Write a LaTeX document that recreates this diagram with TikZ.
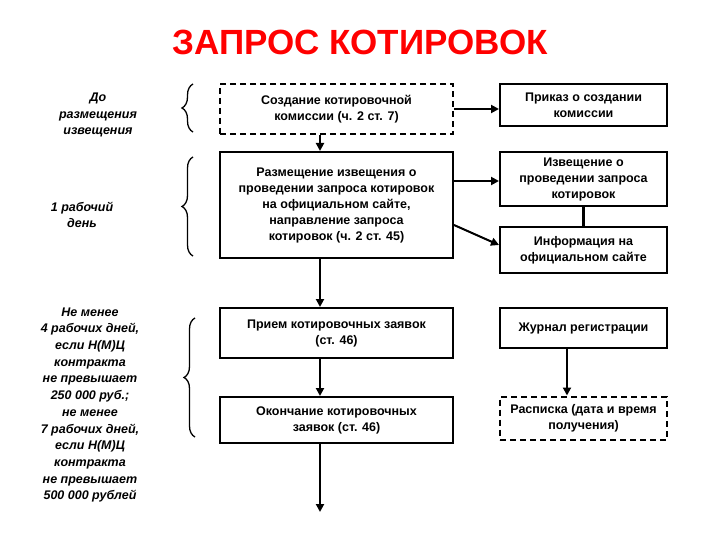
\documentclass[tikz,border=0pt]{standalone}
\usepackage{fontspec}
\setmainfont{Liberation Sans}
\usetikzlibrary{arrows.meta,decorations.pathreplacing}
\begin{document}
\begin{tikzpicture}[x=1pt,y=-1pt,
 box/.style={draw,line width=2pt,align=center,inner sep=2pt,font=\fontsize{12.5}{16}\selectfont\bfseries},
 dbox/.style={box,dashed,dash pattern=on 6pt off 4pt},
 arr/.style={line width=2pt,-{Triangle[length=8pt,width=8pt]}},
 ln/.style={line width=2.4pt},
 side/.style={align=center,font=\fontsize{12.5}{16.7}\selectfont\bfseries\itshape},
 br/.style={line width=1.3pt,decorate,decoration={brace,amplitude=11pt,aspect=0.5}}]
\useasboundingbox (0,0) rectangle (720,540);
\node[text=red,font=\fontsize{35}{40}\selectfont\bfseries] (title) at (360,42) {ЗАПРОС КОТИРОВОК};
\node[dbox,minimum width=233,minimum height=50] (b1) at (336.5,109) {Создание котировочной\\комиссии (ч. 2 ст. 7)};
\node[box,minimum width=233,minimum height=106] (b2) at (336.5,205) {Размещение извещения о\\проведении запроса котировок\\на официальном сайте,\\направление запроса\\котировок (ч. 2 ст. 45)};
\node[box,minimum width=233,minimum height=50] (b3) at (336.5,333) {Прием котировочных заявок\\(ст. 46)};
\node[box,minimum width=233,minimum height=46] (b4) at (336.5,420) {Окончание котировочных\\заявок (ст. 46)};
\node[box,minimum width=167,minimum height=42] (r1) at (583.5,105) {Приказ о создании\\комиссии};
\node[box,minimum width=167,minimum height=54] (r2) at (583.5,179) {Извещение о\\проведении запроса\\котировок};
\node[box,minimum width=167,minimum height=45] (r3) at (583.5,250) {Информация на\\официальном сайте};
\node[box,minimum width=167,minimum height=40] (r4) at (583.5,328) {Журнал регистрации};
\node[dbox,minimum width=167,minimum height=43] (r5) at (583.5,418) {Расписка (дата и время\\получения)};
\coordinate (end) at (320,512);
\draw[arr] (b1.south -| 320,0) -- (b2.north -| 320,0);
\draw[arr] (b2.south -| 320,0) -- (b3.north -| 320,0);
\draw[arr] (b3.south -| 320,0) -- (b4.north -| 320,0);
\draw[arr] (b4.south -| 320,0) -- (end);
\draw[arr] (b1.east) -- (r1.west |- b1.east);
\draw[arr] (b2.east |- 0,181) -- (r2.west |- 0,181);
\draw[arr] (b2.east |- 0,225) -- (r3.west |- 0,245);
\draw[ln] (r2.south) -- (r3.north);
\draw[arr] (r4.south -| 567,0) -- (r5.north -| 567,0);
\node[side] (t1) at (98,115) {До\\размещения\\извещения};
\node[side] (t2) at (82,215) {1 рабочий\\день};
\node[side] (t3) at (90,405) {Не менее\\4 рабочих  дней,\\если Н(М)Ц\\контракта\\не превышает\\250 000 руб.;\\не менее\\7 рабочих дней,\\если Н(М)Ц\\контракта\\не превышает\\500 000 рублей};
\draw[br] (193,132) -- (193,84);
\draw[br] (193,256) -- (193,157);
\draw[br] (195,437) -- (195,318);
\end{tikzpicture}
\end{document}
